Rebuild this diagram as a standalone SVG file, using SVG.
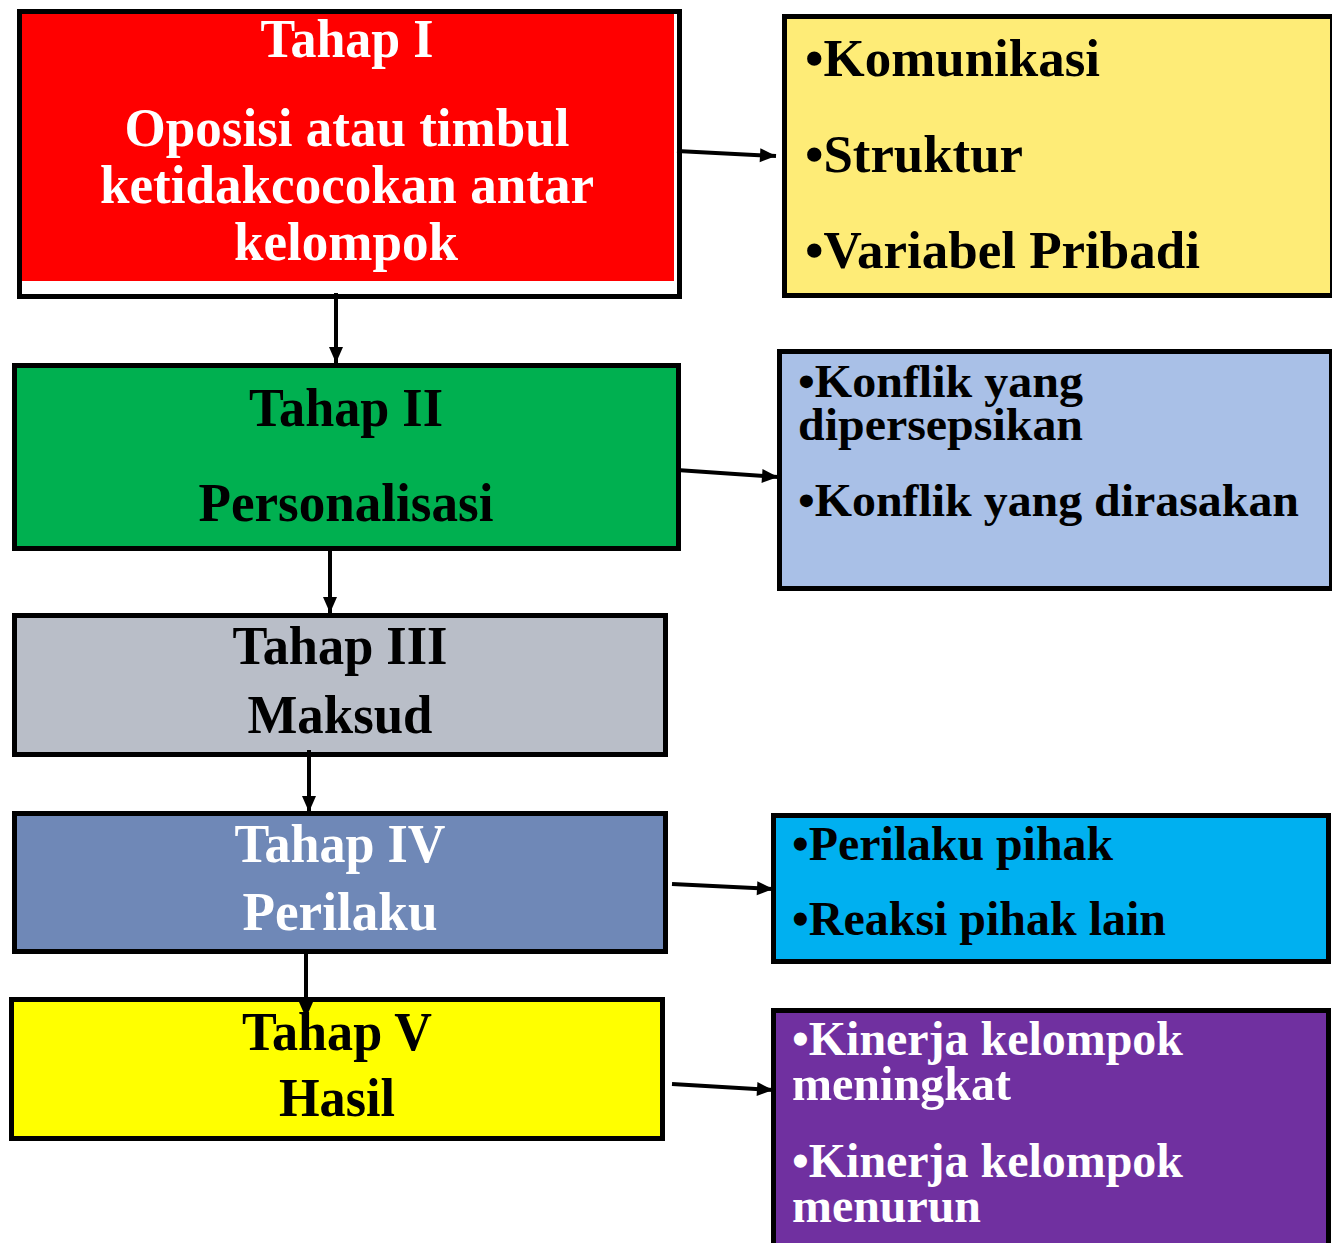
<svg xmlns="http://www.w3.org/2000/svg" width="1332" height="1243" viewBox="0 0 1332 1243">
<style>
  .box { stroke: #000; stroke-width: 5; }
  text { font-family: "Liberation Serif", "Times New Roman", serif; font-weight: bold; }
  .c { text-anchor: middle; }
  .w { fill: #fff; }
  .k { fill: #000; }
  .L { font-size: 54px; }
  .R1 { font-size: 52px; }
  .R2 { font-size: 46px; }
  .R3 { font-size: 48px; }
  .conn { stroke: #000; stroke-width: 4; fill: none; }
</style>
<defs>
  <marker id="ah" markerUnits="userSpaceOnUse" markerWidth="20" markerHeight="20" viewBox="0 0 20 20" refX="18" refY="10" orient="auto">
    <path d="M2,3 L18,10 L2,17 Z" fill="#000"/>
  </marker>
</defs>
<rect width="1332" height="1243" fill="#fff"/>

<g id="tahap1">
  <rect class="box" x="19.5" y="11.5" width="660" height="285" fill="#fff"/>
  <rect x="22" y="14" width="652" height="267" fill="#FF0000"/>
  <text class="L c w" x="347" y="57" textLength="173" lengthAdjust="spacingAndGlyphs">Tahap I</text>
  <text class="L c w" x="347" y="146" textLength="445" lengthAdjust="spacingAndGlyphs">Oposisi atau timbul</text>
  <text class="L c w" x="347" y="203" textLength="494" lengthAdjust="spacingAndGlyphs">ketidakcocokan antar</text>
  <text class="L c w" x="346" y="260" textLength="224" lengthAdjust="spacingAndGlyphs">kelompok</text>
</g>

<g id="tahap2">
  <rect class="box" x="14.5" y="365.5" width="664" height="183" fill="#00B050"/>
  <text class="L c k" x="346" y="426" textLength="194" lengthAdjust="spacingAndGlyphs">Tahap II</text>
  <text class="L c k" x="346" y="521" textLength="295" lengthAdjust="spacingAndGlyphs">Personalisasi</text>
</g>

<g id="tahap3">
  <rect class="box" x="14.5" y="615.5" width="651" height="139" fill="#B9BEC8"/>
  <text class="L c k" x="340" y="664" textLength="215" lengthAdjust="spacingAndGlyphs">Tahap III</text>
  <text class="L c k" x="340" y="733" textLength="185" lengthAdjust="spacingAndGlyphs">Maksud</text>
</g>

<g id="tahap4">
  <rect class="box" x="14.5" y="813.5" width="651" height="138" fill="#6F88B7"/>
  <text class="L c w" x="340" y="862" textLength="211" lengthAdjust="spacingAndGlyphs">Tahap IV</text>
  <text class="L c w" x="340" y="930" textLength="195" lengthAdjust="spacingAndGlyphs">Perilaku</text>
</g>

<g id="tahap5">
  <rect class="box" x="11.5" y="999.5" width="651" height="139" fill="#FFFF00"/>
  <text class="L c k" x="337" y="1050" textLength="190" lengthAdjust="spacingAndGlyphs">Tahap V</text>
  <text class="L c k" x="337" y="1116" textLength="116" lengthAdjust="spacingAndGlyphs">Hasil</text>
</g>

<g id="faktor1">
  <rect class="box" x="784.5" y="16.5" width="548" height="279" fill="#FEEC77"/>
  <text class="R1 k" x="805" y="76" textLength="295" lengthAdjust="spacingAndGlyphs">•Komunikasi</text>
  <text class="R1 k" x="805" y="172" textLength="218" lengthAdjust="spacingAndGlyphs">•Struktur</text>
  <text class="R1 k" x="805" y="268" textLength="395" lengthAdjust="spacingAndGlyphs">•Variabel Pribadi</text>
</g>

<g id="faktor2">
  <rect class="box" x="779.5" y="351.5" width="552" height="237" fill="#A9C0E7"/>
  <text class="R2 k" x="798" y="397" textLength="285" lengthAdjust="spacingAndGlyphs">•Konflik yang</text>
  <text class="R2 k" x="798" y="440" textLength="285" lengthAdjust="spacingAndGlyphs">dipersepsikan</text>
  <text class="R2 k" x="798" y="516" textLength="501" lengthAdjust="spacingAndGlyphs">•Konflik yang dirasakan</text>
</g>

<g id="faktor4">
  <rect class="box" x="773.5" y="815.5" width="555" height="146" fill="#00B0F0"/>
  <text class="R3 k" x="792" y="860" textLength="321" lengthAdjust="spacingAndGlyphs">•Perilaku pihak</text>
  <text class="R3 k" x="792" y="935" textLength="374" lengthAdjust="spacingAndGlyphs">•Reaksi pihak lain</text>
</g>

<g id="faktor5">
  <rect class="box" x="773.5" y="1010.5" width="555" height="260" fill="#7030A0"/>
  <text class="R3 w" x="792" y="1055" textLength="391" lengthAdjust="spacingAndGlyphs">•Kinerja kelompok</text>
  <text class="R3 w" x="792" y="1100" textLength="219" lengthAdjust="spacingAndGlyphs">meningkat</text>
  <text class="R3 w" x="792" y="1177" textLength="391" lengthAdjust="spacingAndGlyphs">•Kinerja kelompok</text>
  <text class="R3 w" x="792" y="1222" textLength="189" lengthAdjust="spacingAndGlyphs">menurun</text>
</g>

<g id="connectors">
  <line class="conn" x1="677" y1="151" x2="776" y2="156" marker-end="url(#ah)"/>
  <line class="conn" x1="336" y1="293" x2="336" y2="363" marker-end="url(#ah)"/>
  <line class="conn" x1="677" y1="470" x2="778" y2="477" marker-end="url(#ah)"/>
  <line class="conn" x1="330" y1="551" x2="330" y2="613" marker-end="url(#ah)"/>
  <line class="conn" x1="309" y1="750" x2="309" y2="812" marker-end="url(#ah)"/>
  <line class="conn" x1="672" y1="884" x2="773" y2="889" marker-end="url(#ah)"/>
  <line class="conn" x1="306" y1="954" x2="306" y2="1018" marker-end="url(#ah)"/>
  <line class="conn" x1="672" y1="1084" x2="773" y2="1090" marker-end="url(#ah)"/>
</g>
</svg>
